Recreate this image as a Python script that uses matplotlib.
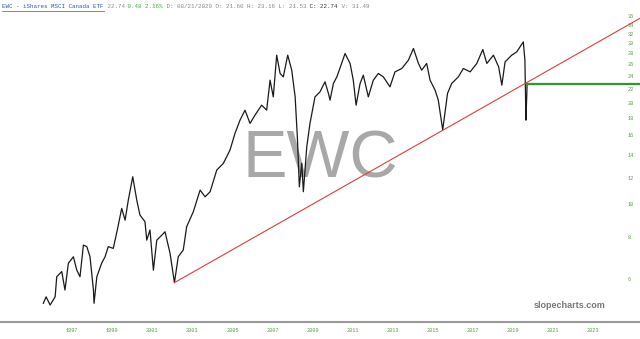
import matplotlib
matplotlib.use("Agg")
import matplotlib.pyplot as plt
from matplotlib.lines import Line2D
from matplotlib.ticker import NullLocator

# price (decimal year, price)
years = [1996.28, 1996.42, 1996.62, 1996.87, 1996.95, 1997.20, 1997.36, 1997.53, 1997.78, 1997.95,
         1998.11, 1998.28, 1998.45, 1998.61, 1998.78, 1998.81, 1998.95, 1999.19, 1999.36, 1999.52,
         1999.77, 1999.97, 2000.19, 2000.36, 2000.52, 2000.74, 2000.94, 2001.10, 2001.35, 2001.44,
         2001.60, 2001.77, 2001.94, 2002.19, 2002.35, 2002.60, 2002.82, 2003.01, 2003.26, 2003.43,
         2003.76, 2004.10, 2004.35, 2004.60, 2004.93, 2005.26, 2005.59, 2005.84, 2006.09, 2006.34,
         2006.59, 2006.84, 2007.17, 2007.42, 2007.59, 2007.75, 2007.92, 2008.09, 2008.25, 2008.47,
         2008.67, 2008.84, 2008.95, 2009.05, 2009.17, 2009.25, 2009.42, 2009.58, 2009.83, 2010.08,
         2010.33, 2010.50, 2010.58, 2010.75, 2010.92, 2011.04, 2011.33, 2011.58, 2011.74, 2011.88,
         2012.08, 2012.24, 2012.49, 2012.74, 2012.99, 2013.24, 2013.57, 2013.82, 2014.16, 2014.49,
         2014.74, 2014.99, 2015.15, 2015.40, 2015.57, 2015.82, 2015.98, 2016.20, 2016.44, 2016.65,
         2016.98, 2017.23, 2017.57, 2017.90, 2018.20, 2018.40, 2018.73, 2018.99, 2019.15, 2019.31,
         2019.64, 2019.89, 2020.22, 2020.30, 2020.35, 2020.39, 2020.41]
prices = [5.10, 5.33, 5.04, 5.33, 6.11, 6.33, 5.58, 6.70, 7.00, 6.39,
          6.11, 7.58, 7.50, 7.00, 5.58, 5.10, 6.11, 6.70, 7.00, 7.50,
          7.41, 8.40, 9.73, 8.98, 10.30, 12.07, 10.30, 9.30, 8.89, 7.84,
          8.40, 6.39, 7.84, 8.11, 8.30, 7.17, 5.87, 7.00, 7.33, 8.59,
          9.51, 11.02, 10.53, 10.90, 12.63, 13.22, 14.47, 16.21, 17.74, 18.99,
          17.35, 18.36, 19.65, 18.99, 23.29, 20.79, 27.61, 24.38, 23.82, 27.61,
          24.93, 20.79, 15.84, 11.27, 13.22, 10.90, 14.80, 17.35, 20.79, 21.51,
          23.03, 21.28, 20.33, 22.78, 23.82, 24.93, 27.93, 26.10, 23.29, 19.65,
          22.78, 24.10, 20.79, 23.29, 24.38, 23.82, 22.26, 24.65, 25.22, 26.69,
          28.90, 26.10, 24.93, 26.10, 23.29, 21.76, 20.33, 16.60, 21.28, 22.78,
          23.82, 25.22, 24.65, 26.10, 28.70, 26.10, 27.61, 25.50, 22.51, 26.38,
          27.61, 28.23, 30.22, 26.69, 17.74, 20.79, 22.74]

trend_x = [2002.82, 2026.04]
trend_y = [5.87, 35.5]
last_close = 22.74

y_ticks = [6, 8, 10, 12, 14, 16, 18, 20, 22, 24, 26, 28, 30, 32, 34, 36]
x_labels = [1997, 1999, 2001, 2003, 2005, 2007, 2009, 2011, 2013, 2015, 2017, 2019, 2021, 2023]

fig = plt.figure(figsize=(6.4, 3.39), dpi=100)
ax = fig.add_axes([0, 17 / 339, 1, 322 / 339])

ax.plot(years, prices, color='#1a1a1a', lw=0.9)
ax.plot(trend_x, trend_y, color='#e03c3c', lw=0.8)
ax.plot([years[-1], 2026.04], [last_close, last_close], color='#2e9a2e', lw=1.6)

ax.set_yscale('log')
ax.set_xlim(1994.12, 2026.04)
ax.set_ylim(4.49, 40.2)

ax.set_yticks(y_ticks)
ax.set_yticklabels([str(v) for v in y_ticks])
ax.yaxis.set_minor_locator(NullLocator())
ax.yaxis.set_ticks_position('right')
ax.tick_params(axis='y', length=0, pad=-9, labelsize=3.8, labelcolor='#5c9a4c')
for lab in ax.get_yticklabels():
    lab.set_fontfamily('Liberation Mono')

# year labels sit a bit to the right of the year start on the source chart
ax.set_xticks([y + 0.71 for y in x_labels])
ax.set_xticklabels([str(y) for y in x_labels])
ax.tick_params(axis='x', length=0, pad=4, labelsize=3.8, labelcolor='#5c9a4c')
for lab in ax.get_xticklabels():
    lab.set_fontfamily('Liberation Mono')

for s in ['top', 'left', 'right']:
    ax.spines[s].set_visible(False)
ax.spines['bottom'].set_color('#999999')
ax.spines['bottom'].set_linewidth(1.5)

# watermark and branding
ax.text(0.5, 0.5, 'EWC', transform=ax.transAxes, ha='center', va='center',
        fontsize=48, color='#a8a8a8', family='Liberation Sans', zorder=0)
fig.text(570 / 640, 1 - 305 / 339, 'slopecharts.com', ha='center', va='center',
         fontsize=6.5, color='#777777', fontweight='bold', family='Liberation Sans')

# header line, segments placed one after another using measured widths
renderer = fig.canvas.get_renderer()
parts = [('EWC - iShares MSCI Canada ETF', '#3355bb'), (' 22.74', '#888888'),
         (' 0.48 2.16%', '#44aa44'), (' D: 08/21/2020 O: 21.60 H: 23.16 L: 21.53', '#888888'),
         (' C: 22.74', '#333333'), (' V: 31.49', '#888888')]
x0 = 2.0
title_end = None
for txt, col in parts:
    t = fig.text(x0 / 640, 1 - 7 / 339, txt.replace(' ', '\u00a0'), ha='left', va='center',
                 fontsize=4.2, color=col, family='Liberation Mono')
    x0 += t.get_window_extent(renderer).width
    if title_end is None:
        title_end = x0
fig.add_artist(Line2D([2 / 640, title_end / 640], [1 - 11 / 339, 1 - 11 / 339],
                      color='#3355bb', lw=0.5))

fig.savefig('out.png', dpi=100)
